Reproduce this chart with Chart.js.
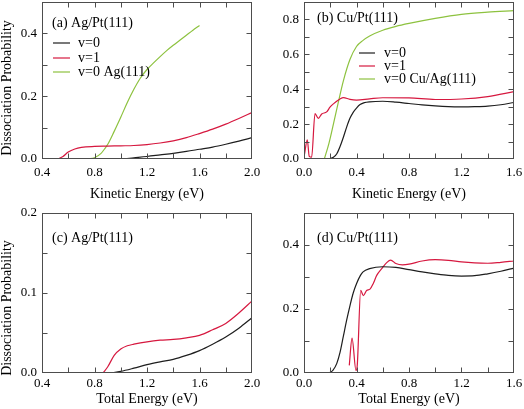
<!DOCTYPE html>
<html>
<head>
<meta charset="utf-8">
<script src="https://cdn.jsdelivr.net/npm/chart.js@4.4.1/dist/chart.umd.min.js"></script>
<style>
  body { margin: 0; background: #fff; }
  .panel { position: absolute; }
</style>
</head>
<body>
<div class="panel" style="left:0;top:0"><canvas id="chartA" width="262" height="205"></canvas></div>
<div class="panel" style="left:262px;top:0"><canvas id="chartB" width="262" height="205"></canvas></div>
<div class="panel" style="left:0;top:205px"><canvas id="chartC" width="262" height="204"></canvas></div>
<div class="panel" style="left:262px;top:205px"><canvas id="chartD" width="262" height="204"></canvas></div>
<script>
// ===============================
// DATA: (a) Ag/Pt(111), kinetic energy
// ===============================
const aV0X = [0.95, 1.0, 1.1, 1.2, 1.3, 1.4, 1.5, 1.6, 1.7, 1.8, 1.9, 2.0];
const aV0Y = [0, 0, 0.004, 0.008, 0.013, 0.018, 0.024, 0.031, 0.038, 0.047, 0.057, 0.068];
const aV1X = [0.52, 0.56, 0.6, 0.65, 0.7, 0.8, 0.9, 1.0, 1.1, 1.2, 1.3, 1.4, 1.5, 1.6, 1.7, 1.8, 1.9, 2.0];
const aV1Y = [0, 0.008, 0.022, 0.032, 0.037, 0.04, 0.041, 0.042, 0.043, 0.046, 0.051, 0.058, 0.068, 0.081, 0.095, 0.111, 0.129, 0.148];
const aAgX = [0.75, 0.8, 0.85, 0.88, 0.9, 0.95, 1.0, 1.05, 1.1, 1.15, 1.2, 1.25, 1.3, 1.35, 1.4, 1.45, 1.5, 1.55, 1.6];
const aAgY = [0, 0.004, 0.018, 0.034, 0.046, 0.088, 0.133, 0.18, 0.222, 0.258, 0.285, 0.306, 0.326, 0.345, 0.362, 0.378, 0.394, 0.41, 0.425];

// ===============================
// DATA: (b) Cu/Pt(111), kinetic energy
// ===============================
const bV0X = [0.19, 0.224, 0.25, 0.274, 0.3, 0.325, 0.35, 0.376, 0.4, 0.427, 0.46, 0.5, 0.6, 0.7, 0.8, 0.9, 1.0, 1.1, 1.2, 1.3, 1.4, 1.5, 1.6];
const bV0Y = [0, 0.01, 0.03, 0.07, 0.125, 0.183, 0.233, 0.269, 0.292, 0.312, 0.323, 0.328, 0.331, 0.326, 0.318, 0.31, 0.304, 0.3, 0.299, 0.3, 0.303, 0.311, 0.324];
const bV1X = [0.003, 0.025, 0.04, 0.058, 0.084, 0.109, 0.135, 0.173, 0.198, 0.224, 0.274, 0.3, 0.35, 0.4, 0.5, 0.6, 0.8, 1.0, 1.2, 1.4, 1.6];
const bV1Y = [0.023, 0.11, 0.015, 0.01, 0.26, 0.233, 0.258, 0.27, 0.297, 0.316, 0.344, 0.352, 0.342, 0.338, 0.345, 0.351, 0.35, 0.341, 0.344, 0.358, 0.386];
const bAgX = [0.155, 0.19, 0.224, 0.26, 0.3, 0.35, 0.4, 0.45, 0.5, 0.6, 0.7, 0.8, 1.0, 1.2, 1.4, 1.6];
const bAgY = [0, 0.09, 0.2, 0.32, 0.448, 0.57, 0.645, 0.68, 0.705, 0.738, 0.76, 0.777, 0.806, 0.829, 0.842, 0.851];

// ===============================
// DATA: (c) Ag/Pt(111), total energy
// ===============================
const cV0X = [0.92, 1.0, 1.1, 1.2, 1.3, 1.4, 1.5, 1.6, 1.7, 1.8, 1.9, 2.0];
const cV0Y = [0, 0.002, 0.006, 0.0105, 0.014, 0.017, 0.022, 0.028, 0.036, 0.045, 0.056, 0.069];
const cV1X = [0.865, 0.9, 0.95, 1.0, 1.05, 1.1, 1.2, 1.3, 1.4, 1.5, 1.6, 1.7, 1.8, 1.9, 2.0];
const cV1Y = [0, 0.0075, 0.022, 0.03, 0.034, 0.036, 0.039, 0.041, 0.042, 0.044, 0.047, 0.054, 0.062, 0.075, 0.09];

// ===============================
// DATA: (d) Cu/Pt(111), total energy
// ===============================
const dV0X = [0.19, 0.22, 0.25, 0.275, 0.3, 0.325, 0.35, 0.375, 0.4, 0.43, 0.45, 0.5, 0.6, 0.7, 0.8, 0.9, 1.0, 1.1, 1.2, 1.3, 1.4, 1.5, 1.6];
const dV0Y = [0, 0.008, 0.03, 0.065, 0.115, 0.165, 0.21, 0.25, 0.279, 0.305, 0.316, 0.326, 0.332, 0.33, 0.323, 0.316, 0.31, 0.305, 0.303, 0.304, 0.31, 0.318, 0.328];
const dV1X = [0.345, 0.366, 0.396, 0.405, 0.432, 0.452, 0.477, 0.503, 0.528, 0.554, 0.592, 0.63, 0.66, 0.7, 0.75, 0.8, 0.9, 1.0, 1.1, 1.2, 1.3, 1.4, 1.5, 1.6];
const dV1Y = [0.024, 0.109, 0.008, 0.02, 0.258, 0.242, 0.258, 0.262, 0.28, 0.305, 0.326, 0.345, 0.353, 0.342, 0.338, 0.34, 0.35, 0.354, 0.352, 0.347, 0.344, 0.343, 0.346, 0.35];

// ===============================
// TICKS
// ===============================
const xLabelsAg = [0.4, 0.8, 1.2, 1.6, 2.0];
const xMarksAg = [0.6, 0.8, 1.0, 1.2, 1.4, 1.6, 1.8];
const xLabelsCu = [0.0, 0.4, 0.8, 1.2, 1.6];
const xMarksCu = [0.2, 0.4, 0.6, 0.8, 1.0, 1.2, 1.4];
const yLabelsA = [0.0, 0.2, 0.4];
const yMarksA = [0.1, 0.2, 0.3, 0.4];
const yLabelsB = [0.0, 0.2, 0.4, 0.6, 0.8];
const yMarksB = [0.1, 0.2, 0.3, 0.4, 0.5, 0.6, 0.7, 0.8];
const yLabelsC = [0.0, 0.1, 0.2];
const yMarksC = [0.05, 0.1, 0.15];
const yLabelsD = [0.0, 0.2, 0.4];
const yMarksD = [0.1, 0.2, 0.3, 0.4];

// ===============================
// STYLE
// ===============================
const FONT = "'Liberation Serif', 'Times New Roman', serif";
const FRAME = "#4d4d4d";
const BLACK = "#1e1e1e";
const RED = "#d6183f";
const GREEN = "#8dc23f";

Chart.defaults.font.family = FONT;
Chart.defaults.color = "#000";

function pts(xs, ys) {
  return xs.map((x, i) => ({ x: x, y: ys[i] }));
}

function line(label, xs, ys, color) {
  return {
    label: label,
    data: pts(xs, ys),
    borderColor: color,
    borderWidth: 1.2,
    pointRadius: 0,
    cubicInterpolationMode: "monotone",
    fill: false
  };
}

// ===============================
// FRAME, INWARD TICKS, LEGEND
// ===============================
const framePlugin = {
  id: "frame",
  afterDraw(chart, args, o) {
    const ctx = chart.ctx;
    const a = chart.chartArea;
    const L = Math.round(a.left) + 0.5, R = Math.round(a.right) - 0.5;
    const T = Math.round(a.top) + 0.5, B = Math.round(a.bottom) - 0.5;
    ctx.save();
    ctx.strokeStyle = FRAME;
    ctx.lineWidth = 1;
    ctx.strokeRect(L, T, R - L, B - T);

    ctx.beginPath();
    o.xMarks.forEach(v => {
      const px = Math.round(chart.scales.x.getPixelForValue(v)) + 0.5;
      ctx.moveTo(px, B); ctx.lineTo(px, B - 5);
      ctx.moveTo(px, T); ctx.lineTo(px, T + 5);
    });
    o.yMarks.forEach(v => {
      const py = Math.round(chart.scales.y.getPixelForValue(v)) + 0.5;
      ctx.moveTo(L, py); ctx.lineTo(L + 5, py);
      ctx.moveTo(R, py); ctx.lineTo(R - 5, py);
    });
    ctx.stroke();

    ctx.fillStyle = "#000";
    ctx.font = "14px " + FONT;
    ctx.textBaseline = "middle";
    ctx.textAlign = "left";
    ctx.fillText(o.tag.text, o.tag.x, o.tag.y);

    if (o.legend) {
      chart.data.datasets.forEach((ds, i) => {
        const y = o.legend.ys[i];
        ctx.strokeStyle = ds.borderColor;
        ctx.lineWidth = 1.2;
        ctx.beginPath();
        ctx.moveTo(o.legend.x0, y);
        ctx.lineTo(o.legend.x1, y);
        ctx.stroke();
        ctx.fillText(ds.label, o.legend.tx, y);
      });
    }

    if (o.yTitle) {
      ctx.translate(o.yTitle.x, o.yTitle.y);
      ctx.rotate(-Math.PI / 2);
      ctx.textAlign = "center";
      ctx.fillText(o.yTitle.text, 0, 0);
    }
    ctx.restore();
  }
};

// ===============================
// CHART BUILDER
// ===============================
function makeChart(id, p) {
  return new Chart(document.getElementById(id), {
    type: "line",
    data: { datasets: p.datasets },
    plugins: [framePlugin],
    options: {
      responsive: false,
      animation: false,
      layout: { padding: { top: p.top, right: 10, left: 0, bottom: 0 } },
      plugins: {
        legend: { display: false },
        tooltip: { enabled: false },
        frame: {
          xMarks: p.xMarks,
          yMarks: p.yMarks,
          tag: p.tag,
          legend: p.legend,
          yTitle: p.yTitle
        }
      },
      scales: {
        x: {
          type: "linear",
          min: p.xMin,
          max: p.xMax,
          afterBuildTicks: s => { s.ticks = p.xLabels.map(v => ({ value: v })); },
          afterFit: s => { s.height = p.xHeight; s.paddingLeft = 0; s.paddingRight = 0; },
          grid: { display: false, drawTicks: false },
          border: { display: false },
          ticks: {
            autoSkip: false,
            maxRotation: 0,
            padding: p.xTickPad,
            font: { size: 13 },
            callback: v => Number(v).toFixed(1)
          },
          title: {
            display: true,
            text: p.xTitle,
            font: { size: 14 },
            padding: { top: 0, bottom: p.xTitlePad }
          }
        },
        y: {
          type: "linear",
          min: 0,
          max: p.yMax,
          afterBuildTicks: s => { s.ticks = p.yLabels.map(v => ({ value: v })); },
          afterFit: s => { s.width = 42; s.paddingTop = 0; s.paddingBottom = 0; },
          grid: { display: false, drawTicks: false },
          border: { display: false },
          ticks: {
            padding: 5,
            font: { size: 13 },
            callback: v => Number(v).toFixed(1)
          }
        }
      }
    }
  });
}

makeChart("chartA", {
  datasets: [
    line("v=0", aV0X, aV0Y, BLACK),
    line("v=1", aV1X, aV1Y, RED),
    line("v=0 Ag(111)", aAgX, aAgY, GREEN)
  ],
  xMin: 0.4, xMax: 2.0, yMax: 0.5, top: 2, xHeight: 46, xTitlePad: 2, xTickPad: 6,
  xLabels: xLabelsAg, xMarks: xMarksAg, yLabels: yLabelsA, yMarks: yMarksA,
  xTitle: "Kinetic Energy (eV)",
  tag: { text: "(a) Ag/Pt(111)", x: 52, y: 23 },
  legend: { x0: 53, x1: 70, tx: 78, ys: [43, 58, 72] },
  yTitle: { text: "Dissociation Probability", x: 7, y: 88 }
});

makeChart("chartB", {
  datasets: [
    line("v=0", bV0X, bV0Y, BLACK),
    line("v=1", bV1X, bV1Y, RED),
    line("v=0 Cu/Ag(111)", bAgX, bAgY, GREEN)
  ],
  xMin: 0, xMax: 1.6, yMax: 0.9, top: 2, xHeight: 46, xTitlePad: 2, xTickPad: 6,
  xLabels: xLabelsCu, xMarks: xMarksCu, yLabels: yLabelsB, yMarks: yMarksB,
  xTitle: "Kinetic Energy (eV)",
  tag: { text: "(b) Cu/Pt(111)", x: 55, y: 18 },
  legend: { x0: 97, x1: 113, tx: 122, ys: [53, 66, 79] }
});

makeChart("chartC", {
  datasets: [
    line("v=0", cV0X, cV0Y, BLACK),
    line("v=1", cV1X, cV1Y, RED)
  ],
  xMin: 0.4, xMax: 2.0, yMax: 0.2, top: 8, xHeight: 36, xTitlePad: 1, xTickPad: 3,
  xLabels: xLabelsAg, xMarks: xMarksAg, yLabels: yLabelsC, yMarks: yMarksC,
  xTitle: "Total Energy (eV)",
  tag: { text: "(c) Ag/Pt(111)", x: 52, y: 33 },
  yTitle: { text: "Dissociation Probability", x: 7, y: 103 }
});

makeChart("chartD", {
  datasets: [
    line("v=0", dV0X, dV0Y, BLACK),
    line("v=1", dV1X, dV1Y, RED)
  ],
  xMin: 0, xMax: 1.6, yMax: 0.5, top: 8, xHeight: 36, xTitlePad: 1, xTickPad: 3,
  xLabels: xLabelsCu, xMarks: xMarksCu, yLabels: yLabelsD, yMarks: yMarksD,
  xTitle: "Total Energy (eV)",
  tag: { text: "(d) Cu/Pt(111)", x: 55, y: 33 }
});
</script>
</body>
</html>
